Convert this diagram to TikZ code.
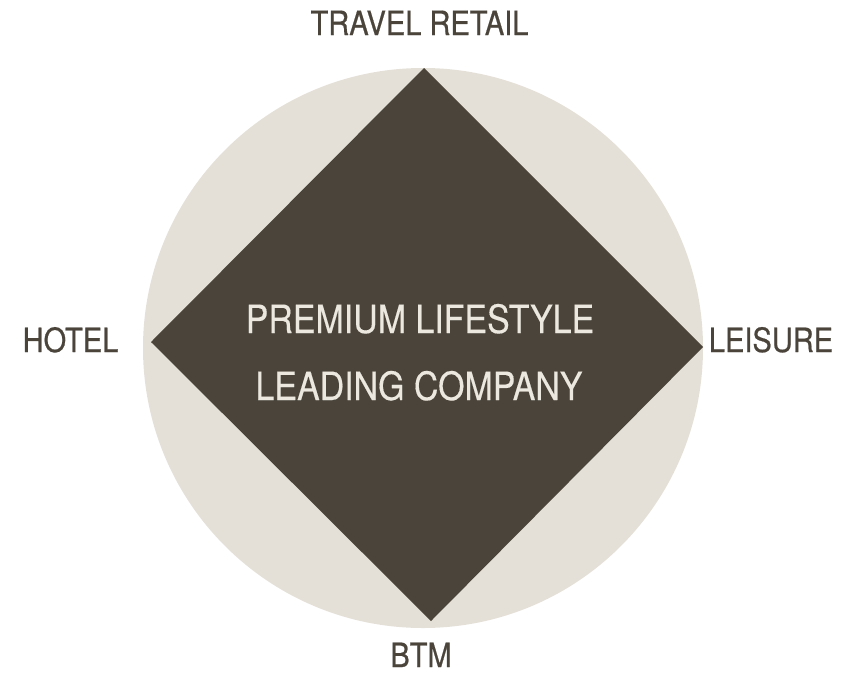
\documentclass[tikz,border=0pt]{standalone}
\usepackage{fontspec}
\setmainfont[FakeStretch=0.87]{TeX Gyre Heros}
\newfontfamily\labelfont[FakeStretch=0.87,FakeBold=0.6]{TeX Gyre Heros}
\newfontfamily\centerfont[FakeStretch=0.87,FakeBold=0.3]{TeX Gyre Heros}
\definecolor{darkbrown}{HTML}{4A443B}
\definecolor{lightbeige}{HTML}{E4E0D8}
\definecolor{paletext}{HTML}{ECE8DF}
\begin{document}
\begin{tikzpicture}[x=1pt,y=-1pt,
  outer/.style={anchor=base,text=darkbrown,inner sep=0pt,font=\labelfont\fontsize{33.4}{40}\selectfont},
  inner/.style={anchor=base,text=paletext,inner sep=0pt,font=\centerfont\fontsize{39}{46}\selectfont}]
\useasboundingbox (0,0) rectangle (854,675);
\fill[lightbeige] (423,348) circle[radius=280];
\coordinate (top) at (424,68);
\coordinate (left) at (151,342);
\coordinate (bottom) at (431,621);
\coordinate (right) at (703,347);
\fill[darkbrown] (top) -- (right) -- (bottom) -- (left) -- cycle;
\node[outer] (travel) at (419.5,35) {TRAVEL RETAIL};
\node[outer] (hotel) at (70.5,352) {HOTEL};
\node[outer] (leisure) at (771,352) {LEISURE};
\node[outer] (btm) at (421,667) {BTM};
\node[inner] (line1) at (420,333) {PREMIUM LIFESTYLE};
\node[inner] (line2) at (419,400) {LEADING COMPANY};
\end{tikzpicture}
\end{document}
